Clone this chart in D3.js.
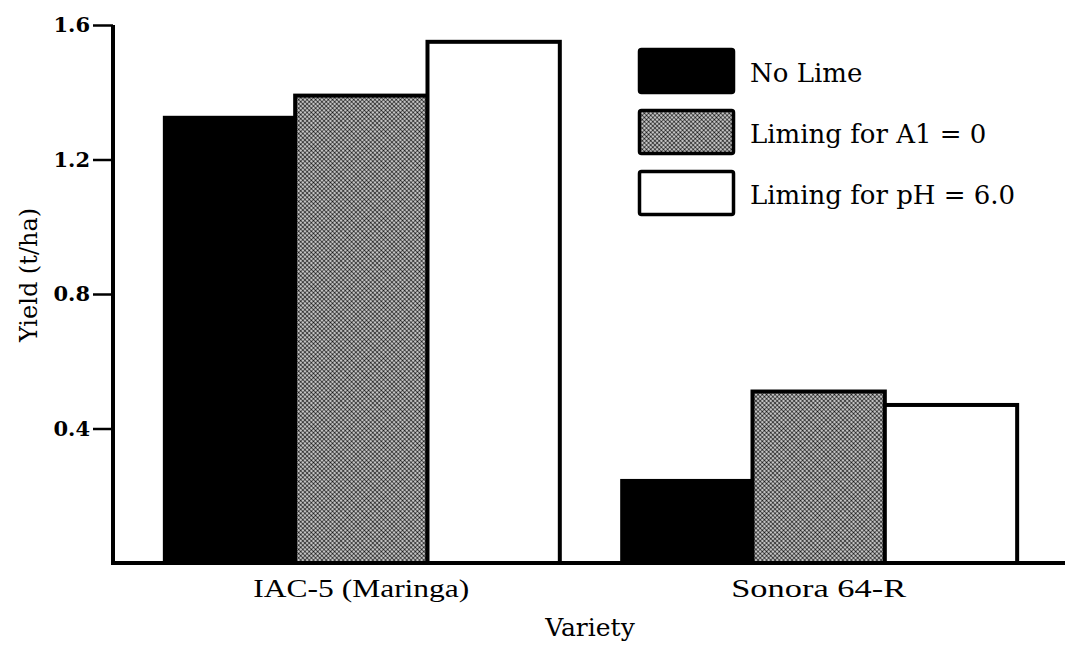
<!DOCTYPE html>
<html>
<head>
<meta charset="utf-8">
<script src="https://cdn.jsdelivr.net/npm/d3@7"></script>
<style>
  html, body { margin: 0; padding: 0; background: #fff; }
  svg { display: block; }
</style>
</head>
<body>
<svg id="chart" width="1065" height="645"></svg>
<script>
// ---- data ----
const categories = ["IAC-5 (Maringa)", "Sonora 64-R"];
const series = ["No Lime", "Liming for A1 = 0", "Liming for pH = 6.0"];
const noLime = [1.33, 0.25];
const limingAl = [1.39, 0.51];
const limingPH = [1.55, 0.47];
const yTicks = [0.4, 0.8, 1.2, 1.6];
const xTitle = "Variety";
const yTitle = "Yield (t/ha)";

const values = [noLime, limingAl, limingPH];

const svg = d3.select("#chart");

// pattern for gray halftone
const defs = svg.append("defs");
const pat = defs.append("pattern")
  .attr("id", "halftone")
  .attr("patternUnits", "userSpaceOnUse")
  .attr("width", 3).attr("height", 3)
  .attr("patternTransform", "rotate(45)");
pat.append("rect").attr("width", 3).attr("height", 3).attr("fill", "#fff");
pat.append("circle").attr("cx", 1.5).attr("cy", 1.5).attr("r", 1.2).attr("fill", "#111");

const fills = ["#000", "url(#halftone)", "#fff"];

const x0 = d3.scaleBand().domain(categories).range([113, 1067])
  .paddingInner(0.132).paddingOuter(0.109);
const x1 = d3.scaleBand().domain(series).range([0, x0.bandwidth()]).padding(0);
const y = d3.scaleLinear().domain([0, 1.6]).range([563, 25]);

// bars
const groups = svg.append("g").selectAll("g")
  .data(categories).join("g")
  .attr("transform", d => `translate(${x0(d)},0)`);

groups.selectAll("rect")
  .data((c, ci) => series.map((s, si) => ({ s, si, v: values[si][ci] })))
  .join("rect")
  .attr("x", d => x1(d.s))
  .attr("width", x1.bandwidth())
  .attr("y", d => y(d.v))
  .attr("height", d => y(0) - y(d.v))
  .attr("fill", d => fills[d.si])
  .attr("stroke", "#000")
  .attr("stroke-width", d => d.si === 0 ? 0 : 4)
  .attr("stroke-linejoin", "miter");

// y axis
const yAxis = d3.axisLeft(y).tickValues(yTicks).tickFormat(d3.format(".1f"))
  .tickSize(20).tickSizeOuter(0).tickPadding(3);
const gy = svg.append("g").attr("transform", "translate(113,0)").call(yAxis);
gy.select(".domain").remove();
gy.selectAll(".tick line").attr("stroke", "#000").attr("stroke-width", 2.5);
gy.selectAll(".tick text")
  .attr("font-family", "'DejaVu Serif', serif")
  .attr("font-weight", "bold")
  .attr("font-size", 21)
  .attr("fill", "#000");

// axis lines
svg.append("line").attr("x1", 113).attr("x2", 113)
  .attr("y1", y(1.6)).attr("y2", y(0) + 2)
  .attr("stroke", "#000").attr("stroke-width", 4);
svg.append("line").attr("x1", 111).attr("x2", 1065)
  .attr("y1", y(0)).attr("y2", y(0))
  .attr("stroke", "#000").attr("stroke-width", 4);

// x category labels
const xAxis = d3.axisBottom(x0).tickSize(0).tickPadding(16);
const gx = svg.append("g").attr("transform", `translate(0,${y(0)})`).call(xAxis);
gx.select(".domain").remove();
gx.selectAll(".tick text")
  .attr("font-family", "'Liberation Serif', serif")
  .attr("font-size", 25)
  .attr("fill", "#000")
  .attr("textLength", (d, i) => i === 0 ? 216 : 175)
  .attr("lengthAdjust", "spacingAndGlyphs");

// axis titles
svg.append("text")
  .attr("x", 590).attr("y", 636)
  .attr("text-anchor", "middle")
  .attr("font-family", "'DejaVu Serif', serif")
  .attr("font-size", 25)
  .attr("fill", "#000")
  .text(xTitle);

svg.append("text")
  .attr("transform", "translate(37,275) rotate(-90)")
  .attr("text-anchor", "middle")
  .attr("font-family", "'DejaVu Serif', serif")
  .attr("font-size", 24)
  .attr("fill", "#000")
  .text(yTitle);

// legend
const legY = d3.scalePoint().domain(series).range([48, 170]);
const leg = svg.append("g").selectAll("g").data(series).join("g")
  .attr("transform", d => `translate(638,${legY(d)})`);
leg.append("rect")
  .attr("x", 1.5).attr("y", 1.5)
  .attr("width", 94).attr("height", 43)
  .attr("rx", 2)
  .attr("fill", (d, i) => fills[i])
  .attr("stroke", "#000").attr("stroke-width", 3.5);
leg.append("text")
  .attr("x", 112).attr("y", 34)
  .attr("font-family", "'DejaVu Serif', serif")
  .attr("font-size", 26)
  .attr("fill", "#000")
  .text(d => d);
</script>
</body>
</html>
